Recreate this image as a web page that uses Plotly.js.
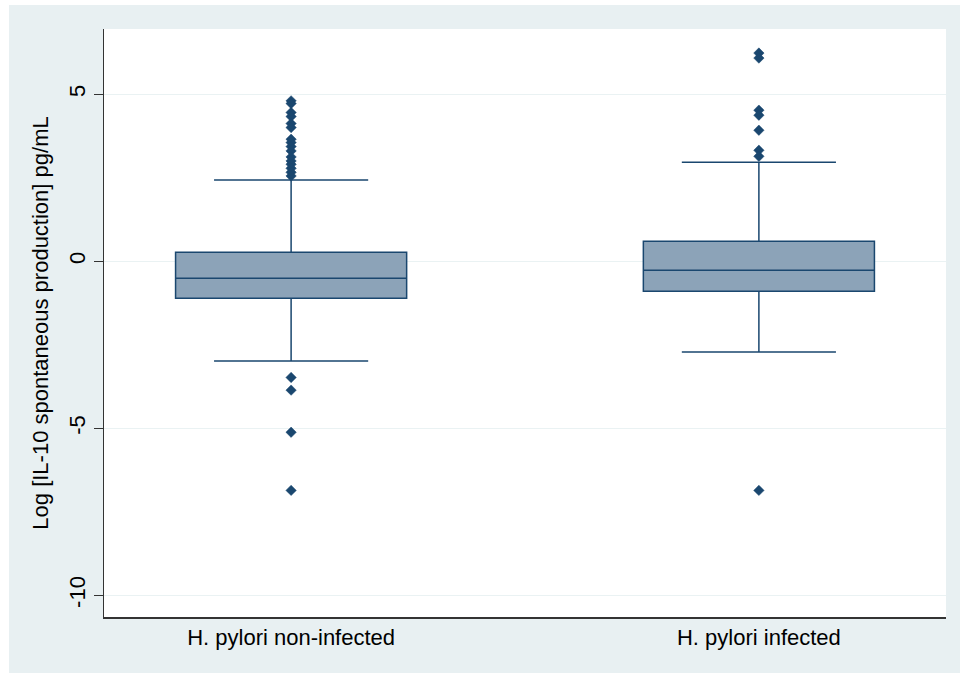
<!DOCTYPE html>
<html>
<head>
<meta charset="utf-8">
<script src="https://cdn.plot.ly/plotly-3.0.1.min.js"></script>
<style>
html, body { margin: 0; padding: 0; background: #ffffff; width: 960px; height: 673px; overflow: hidden; }
#chart { position: absolute; left: 9px; top: 5px; width: 951px; height: 668px; }
</style>
</head>
<body>
<div id="chart"></div>
<script>
// Categories
var categories = ["H. pylori non-infected", "H. pylori infected"];

// Box statistics
var q1Values = [-1.11, -0.90];
var medianValues = [-0.51, -0.27];
var q3Values = [0.27, 0.60];
var lowerWhisker = [-2.99, -2.72];
var upperWhisker = [2.43, 2.96];

// Outliers
var outliersNonInfected = [4.80, 4.72, 4.45, 4.33, 4.12, 4.00, 3.65, 3.55, 3.43, 3.30, 3.12, 3.00, 2.90, 2.78, 2.66, 2.55,
                           -3.48, -3.86, -5.12, -6.86];
var outliersInfected = [6.23, 6.08, 4.52, 4.37, 3.92, 3.32, 3.14, -6.86];

var navy = "#1a476f";

var boxTrace = {
  type: "box",
  x: categories,
  q1: q1Values,
  median: medianValues,
  q3: q3Values,
  lowerfence: lowerWhisker,
  upperfence: upperWhisker,
  boxpoints: false,
  width: 0.494,
  whiskerwidth: 0.667,
  fillcolor: "#8ca3b8",
  line: { color: navy, width: 1.5 },
  hoverinfo: "skip",
  showlegend: false
};

var outX = [], outY = [];
outliersNonInfected.forEach(function (v) { outX.push(categories[0]); outY.push(v); });
outliersInfected.forEach(function (v) { outX.push(categories[1]); outY.push(v); });

var outTrace = {
  type: "scatter",
  mode: "markers",
  x: outX,
  y: outY,
  marker: { symbol: "diamond", size: 8, color: navy, line: { width: 0.5, color: navy } },
  showlegend: false
};

var layout = {
  width: 951,
  height: 668,
  paper_bgcolor: "#e8f0f2",
  plot_bgcolor: "#ffffff",
  margin: { l: 95, r: 14, t: 24, b: 56 },
  font: { family: "Liberation Sans, Arial, sans-serif", size: 22, color: "#000000" },
  showlegend: false,
  xaxis: {
    type: "category",
    range: [-0.4, 1.4],
    showline: true,
    linecolor: "#333333",
    linewidth: 1.5,
    ticks: "",
    showgrid: false,
    zeroline: false,
    tickfont: { size: 22 },
    fixedrange: true
  },
  yaxis: {
    range: [-10.65, 6.95],
    tickvals: [5, 0, -5, -10],
    ticktext: ["5", "0", "-5", "-10"],
    tickangle: -90,
    ticks: "outside",
    ticklen: 9,
    tickcolor: "#333333",
    tickwidth: 1,
    showline: true,
    linecolor: "#333333",
    linewidth: 1.5,
    showgrid: true,
    gridcolor: "#eaf2f3",
    gridwidth: 1,
    zeroline: false,
    tickfont: { size: 22 },
    title: { text: "Log [IL-10 spontaneous production] pg/mL", font: { size: 22 }, standoff: 10 },
    fixedrange: true
  }
};

Plotly.newPlot("chart", [boxTrace, outTrace], layout, { displayModeBar: false, staticPlot: true });
</script>
</body>
</html>
